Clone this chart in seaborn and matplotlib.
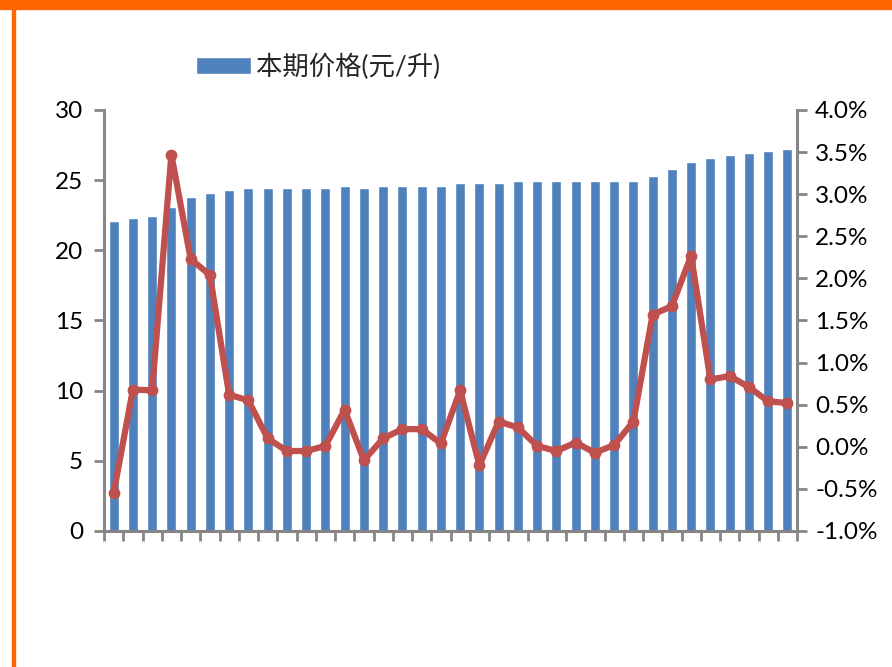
import matplotlib
matplotlib.use("Agg")
import matplotlib.pyplot as plt
import seaborn as sns
import pandas as pd
import numpy as np
from matplotlib.ticker import PercentFormatter, FixedLocator

# 每期价格（元/升）与环比涨幅（%）
periods = [str(i) for i in range(1, 37)]
price = [22.1, 22.3, 22.45, 23.1, 23.8, 24.1, 24.3, 24.45, 24.45, 24.45, 24.45, 24.45,
         24.6, 24.45, 24.6, 24.6, 24.6, 24.6, 24.78, 24.78, 24.78, 24.94, 24.94, 24.94,
         24.94, 24.94, 24.94, 24.94, 25.28, 25.78, 26.27, 26.58, 26.77, 26.94, 27.08, 27.25]
change = [-0.55, 0.68, 0.67, 3.47, 2.23, 2.04, 0.62, 0.55, 0.10, -0.05, -0.05, 0.01,
          0.44, -0.16, 0.10, 0.21, 0.21, 0.04, 0.67, -0.22, 0.30, 0.23, 0.01, -0.05,
          0.05, -0.07, 0.02, 0.30, 1.57, 1.67, 2.27, 0.80, 0.84, 0.71, 0.54, 0.52]

df = pd.DataFrame({'period': periods, 'price': price, 'change': change})
df['pos'] = np.arange(len(df))

sns.set_style('white')
plt.rcParams['font.family'] = ['Lato', 'Noto Sans CJK SC', 'DejaVu Sans']
plt.rcParams['axes.unicode_minus'] = False

fig = plt.figure(figsize=(8.92, 6.67), dpi=100)
ax = fig.add_axes([0.1166, 0.2039, 0.8935 - 0.1166, 0.8351 - 0.2039])

sns.barplot(data=df, x='period', y='price', color='#4F81BD', saturation=1,
            width=0.53, ax=ax, label='本期价格(元/升)')
ax.set_xlim(-0.5, len(df) - 0.5)
ax.set_ylim(0, 30)
ax.set_yticks(range(0, 31, 5))
ax.set_xlabel('')
ax.set_ylabel('')

ax2 = ax.twinx()
sns.lineplot(data=df, x='pos', y='change', color='#C0504D', linewidth=4.5,
             marker='o', markersize=8.5, markeredgewidth=0, ax=ax2, legend=False)
ax2.set_ylim(-1.0, 4.0)
ax2.set_yticks(np.arange(-1.0, 4.01, 0.5))
ax2.yaxis.set_major_formatter(PercentFormatter(decimals=1))
ax2.set_xlabel('')
ax2.set_ylabel('')

axis_gray = '#868686'
for a in (ax, ax2):
    for s in a.spines.values():
        s.set_visible(False)
ax.spines['left'].set_visible(True)
ax.spines['bottom'].set_visible(True)
ax2.spines['right'].set_visible(True)
for s in (ax.spines['left'], ax.spines['bottom'], ax2.spines['right']):
    s.set_color(axis_gray)
    s.set_linewidth(2.2)

ax.xaxis.set_major_locator(FixedLocator(np.arange(-0.5, len(df), 1.0)))
ax.set_xticklabels([])
ax.tick_params(axis='x', direction='out', length=7, width=2, color=axis_gray, bottom=True)
ax.tick_params(axis='y', direction='out', length=7, width=2, color=axis_gray,
               labelsize=17.5, labelcolor='black', pad=8, left=True)
ax2.tick_params(axis='y', direction='out', length=7, width=2, color=axis_gray,
                labelsize=17.5, labelcolor='black', pad=6, right=True)
ax2.tick_params(axis='x', bottom=False, labelbottom=False)

leg = ax.legend(loc='upper left', bbox_to_anchor=(0.117, 1.159), frameon=False,
                fontsize=19, handlelength=2.1, handleheight=0.6, handletextpad=0.2,
                borderaxespad=0)

# 橙色边框
fig.patches.append(plt.Rectangle((0, 1 - 9 / 667), 1, 9 / 667, transform=fig.transFigure,
                                 color='#FF6600', zorder=10))
fig.patches.append(plt.Rectangle((12 / 892, 0), 3 / 892, 1, transform=fig.transFigure,
                                 color='#FF6600', zorder=10))

fig.savefig('out.png', dpi=100)
